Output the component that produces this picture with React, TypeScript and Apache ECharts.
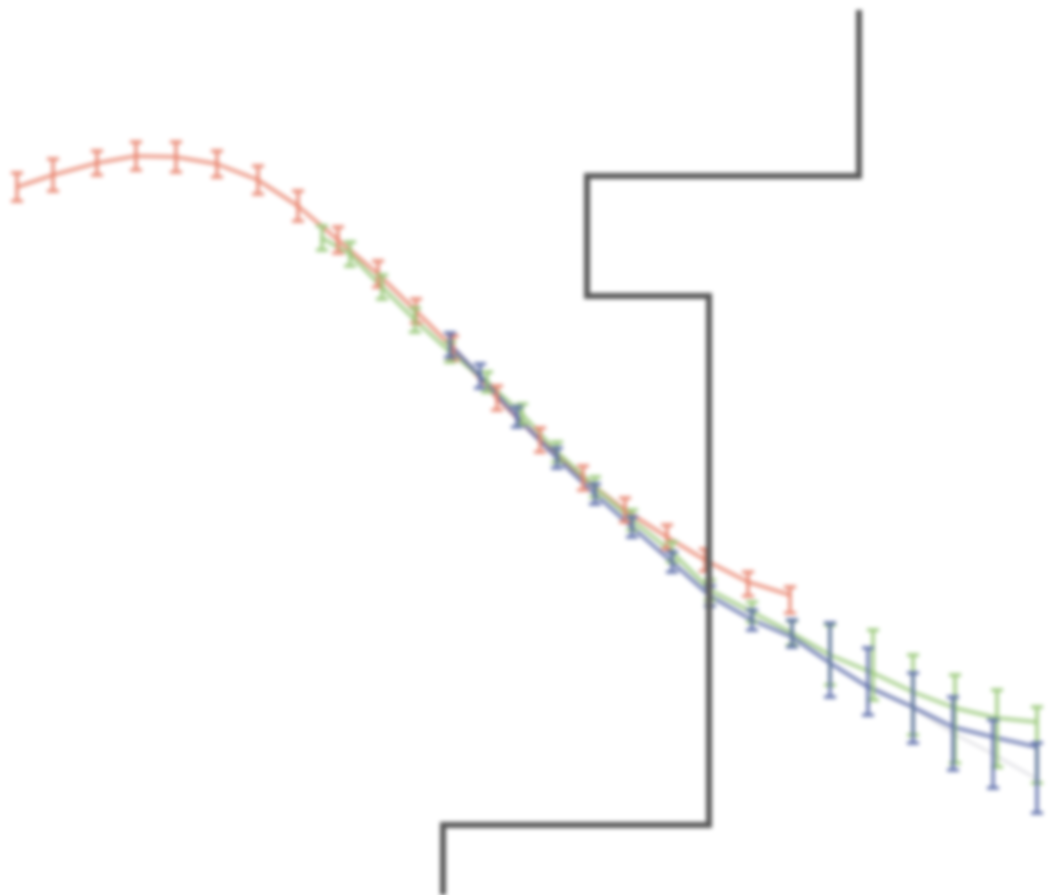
import React, { useEffect, useRef } from "react";
import * as echarts from "echarts";

// Data (x position, y value, error below, error above)
const redX = [17, 53, 97, 136, 176, 217, 258, 298, 338, 378, 416, 453, 497, 540, 583, 625, 667, 705, 748, 790];
const redY = [187, 175, 163, 156, 157, 164, 180, 206, 240, 274, 311, 348, 398, 440, 478, 510, 537, 560, 582, 595];
const redErrDown = [14, 16, 12, 14, 15, 13, 14, 15, 13, 13, 12, 12, 12, 12, 12, 12, 12, 11, 14, 18];
const redErrUp = [14, 16, 12, 14, 15, 13, 14, 15, 13, 13, 12, 12, 12, 12, 12, 12, 12, 11, 10, 8];

const greenX = [322, 350, 382, 415, 450, 487, 522, 557, 595, 632, 672, 710, 752, 792, 830, 873, 913, 955, 997, 1037];
const greenY = [238, 254, 287, 320, 352, 382, 414, 452, 487, 520, 552, 590, 612, 633, 655, 673, 692, 708, 718, 722];
const greenErrDown = [12, 12, 12, 12, 10, 10, 10, 10, 10, 10, 10, 10, 10, 12, 30, 27, 43, 55, 49, 61];
const greenErrUp = [12, 12, 12, 12, 10, 10, 10, 10, 10, 10, 10, 10, 10, 12, 30, 43, 37, 33, 28, 15];

const blueX = [450, 480, 517, 557, 595, 632, 672, 710, 752, 792, 830, 868, 913, 953, 993, 1037];
const blueY = [345, 376, 417, 458, 494, 527, 562, 596, 620, 637, 663, 687, 707, 727, 737, 747];
const blueErrDown = [12, 12, 10, 10, 10, 10, 10, 10, 10, 10, 34, 28, 36, 43, 51, 66];
const blueErrUp = [12, 12, 10, 10, 10, 10, 10, 10, 10, 17, 40, 39, 34, 30, 17, 4];

const faintX = [868, 913, 953, 993, 1037];
const faintY = [684, 708, 733, 754, 779];

const stepX = [443, 443, 709, 709, 587, 587, 859, 859];
const stepY = [900, 825, 825, 296, 296, 176, 176, 10];

const RED = "#e8806a";
const GREEN = "#94c673";
const BLUE = "#5566a6";

function pairs(xs: number[], ys: number[]) {
  return xs.map((x, i) => [x, ys[i]]);
}

function errData(xs: number[], ys: number[], down: number[], up: number[]) {
  return xs.map((x, i) => [x, ys[i] + down[i], ys[i] - up[i]]);
}

function errSeries(name: string, color: string, data: number[][]) {
  return {
    name,
    type: "custom",
    data,
    encode: { x: 0, y: [1, 2] },
    z: 3,
    renderItem: (params: any, api: any) => {
      const x = api.value(0);
      const p1 = api.coord([x, api.value(1)]);
      const p2 = api.coord([x, api.value(2)]);
      const w = 6;
      const st = { stroke: color, lineWidth: 3.5, opacity: 0.85 };
      return {
        type: "group",
        children: [
          { type: "line", shape: { x1: p1[0], y1: p1[1], x2: p2[0], y2: p2[1] }, style: st },
          { type: "line", shape: { x1: p1[0] - w, y1: p1[1], x2: p1[0] + w, y2: p1[1] }, style: st },
          { type: "line", shape: { x1: p2[0] - w, y1: p2[1], x2: p2[0] + w, y2: p2[1] }, style: st },
        ],
      };
    },
  };
}

function lineSeries(name: string, color: string, data: number[][], width: number, opacity: number, z: number) {
  return {
    name,
    type: "line",
    data,
    showSymbol: false,
    symbol: "none",
    z,
    lineStyle: { color, width, opacity },
  };
}

export default function App() {
  const ref = useRef<HTMLDivElement>(null);
  useEffect(() => {
    if (!ref.current) return;
    const chart = echarts.init(ref.current, undefined, { renderer: "svg" });
    chart.setOption({
      animation: false,
      backgroundColor: "#ffffff",
      grid: { left: 0, right: 0, top: 0, bottom: 0 },
      xAxis: { type: "value", min: 0, max: 1048, show: false },
      yAxis: { type: "value", min: 0, max: 895, inverse: true, show: false },
      series: [
        lineSeries("faint", "#9a9aa8", pairs(faintX, faintY), 2.5, 0.35, 2),
        lineSeries("red", RED, pairs(redX, redY), 4, 0.75, 2),
        errSeries("red-err", RED, errData(redX, redY, redErrDown, redErrUp)),
        lineSeries("green", GREEN, pairs(greenX, greenY), 4, 0.75, 2),
        errSeries("green-err", GREEN, errData(greenX, greenY, greenErrDown, greenErrUp)),
        lineSeries("blue", BLUE, pairs(blueX, blueY), 4, 0.75, 2),
        errSeries("blue-err", BLUE, errData(blueX, blueY, blueErrDown, blueErrUp)),
        {
          name: "step",
          type: "line",
          data: pairs(stepX, stepY),
          showSymbol: false,
          symbol: "none",
          z: 5,
          lineStyle: { color: "#595959", width: 6, join: "miter", cap: "butt" },
        },
      ],
    });
    return () => chart.dispose();
  }, []);
  return (
    <div
      ref={ref}
      style={{
        position: "fixed",
        left: 0,
        top: 0,
        width: 1048,
        height: 895,
        background: "#fff",
        filter: "blur(2.2px)",
      }}
    />
  );
}
